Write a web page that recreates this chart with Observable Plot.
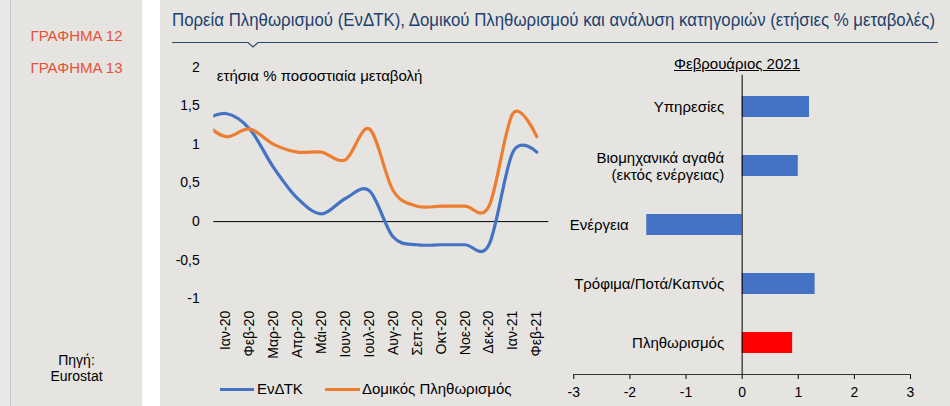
<!DOCTYPE html>
<html><head><meta charset="utf-8">
<script src="https://cdn.jsdelivr.net/npm/d3@7"></script>
<script src="https://cdn.jsdelivr.net/npm/@observablehq/plot@0.6"></script>
<style>
body{margin:0;width:950px;height:406px;position:relative;overflow:hidden;background:#fff;font-family:"Liberation Sans",Arial,sans-serif;}
.abs{position:absolute;white-space:nowrap;}
.plot{position:absolute;top:0;}
</style></head><body>
<div class="abs" style="left:0;top:0;width:10px;height:406px;background:#e8e8e8;border-right:1px solid #c4c4c4"></div>
<div class="abs" style="left:11px;top:0;width:131px;height:406px;background:#e5e4e0"></div>
<div class="abs" style="left:160px;top:0;width:790px;height:406px;background:#e5e4e0"></div>
<div class="abs" style="left:11px;width:131px;top:27px;text-align:center;font-size:15px;line-height:18px;color:#e8503a">ΓΡΑΦΗΜΑ 12</div>
<div class="abs" style="left:11px;width:131px;top:59px;text-align:center;font-size:15px;line-height:18px;color:#e8503a">ΓΡΑΦΗΜΑ 13</div>
<div class="abs" style="left:11px;width:131px;top:352px;text-align:center;font-size:14px;line-height:16px;color:#000">Πηγή:<br>Eurostat</div>
<div id="title" class="abs" style="left:172px;top:9px;font-size:18px;line-height:22px;color:#1f3f6e;transform-origin:0 0">Πορεία Πληθωρισμού (ΕνΔΤΚ), Δομικού Πληθωρισμού και ανάλυση κατηγοριών (ετήσιες % μεταβολές)</div>
<svg class="abs" style="left:0;top:0" width="950" height="60"><path d="M172,42.5H248L253,47L258,42.5H938" fill="none" stroke="#2c4a6b" stroke-width="1.2"/></svg>
<div id="left" class="plot" style="left:0"></div>
<div id="right" class="plot" style="left:560px"></div>
<div class="abs" style="left:667px;width:140px;top:56px;text-align:center;font-size:15px;line-height:16px;text-decoration:underline;color:#000">Φεβρουάριος 2021</div>
<div class="abs" style="left:220px;top:387.5px;width:34px;height:3px;background:#4472C4"></div>
<div class="abs" style="left:257px;top:381px;font-size:15px;line-height:16px">ΕνΔΤΚ</div>
<div class="abs" style="left:325px;top:387.5px;width:35px;height:3px;background:#ED7D31"></div>
<div class="abs" style="left:362px;top:381px;font-size:15px;line-height:16px">Δομικός Πληθωρισμός</div>
<script>
// ---- data ----
const months = ["Δεκ-19","Ιαν-20","Φεβ-20","Μαρ-20","Απρ-20","Μάι-20","Ιουν-20","Ιουλ-20","Αυγ-20","Σεπ-20","Οκτ-20","Νοε-20","Δεκ-20","Ιαν-21","Φεβ-21"];
const hicp = [1.3,1.4,1.2,0.7,0.3,0.1,0.3,0.4,-0.2,-0.3,-0.3,-0.3,-0.3,0.9,0.9];
const core = [1.3,1.1,1.2,1.0,0.9,0.9,0.8,1.2,0.4,0.2,0.2,0.2,0.2,1.4,1.1];
const yTicks = [-1,-0.5,0,0.5,1,1.5,2];
const yLabel = "ετήσια % ποσοστιαία μεταβολή";
const seriesNames = ["ΕνΔΤΚ","Δομικός Πληθωρισμός"];
const categories = ["Υπηρεσίες","Βιομηχανικά αγαθά\n(εκτός ενέργειας)","Ενέργεια","Τρόφιμα/Ποτά/Καπνός","Πληθωρισμός"];
const febValues = [1.2,1.0,-1.7,1.3,0.9];
const xTicks = [-3,-2,-1,0,1,2,3];

// ---- styles ----
const BLUE = "#4472C4", ORANGE = "#ED7D31", RED = "#FF0000";
const font = "'Liberation Sans', Arial, sans-serif";

// fit title width
const t = document.getElementById("title");
t.style.transform = `scaleX(${763 / t.getBoundingClientRect().width})`;

const rows = months.map((m, i) => ({i, m, hicp: hicp[i], core: core[i]}));
const left = Plot.plot({
  width: 560, height: 406,
  marginLeft: 213.3, marginRight: 11.7, marginTop: 66.7, marginBottom: 107.7,
  style: {background: "transparent", fontFamily: font, fontSize: "14px", color: "#000", overflow: "visible"},
  x: {domain: [0.5, 14.5], ticks: d3.range(1, months.length), tickFormat: i => months[i], tickRotate: -90, tickSize: 0, tickPadding: 12, label: null},
  y: {domain: [-1, 2], ticks: yTicks, tickFormat: d => String(d).replace(".", ","), tickSize: 0, tickPadding: 14, label: null},
  marks: [
    Plot.ruleY([0], {stroke: "#000", strokeWidth: 1}),
    Plot.lineY(rows, {x: "i", y: "hicp", stroke: BLUE, strokeWidth: 3.2, curve: "cardinal", clip: true}),
    Plot.lineY(rows, {x: "i", y: "core", stroke: ORANGE, strokeWidth: 3.2, curve: "cardinal", clip: true}),
    Plot.text([yLabel], {text: d => d, frameAnchor: "top-left", textAnchor: "start", dx: 3, dy: 3, fontSize: 15})
  ]
});
document.getElementById("left").append(left);

const bars = categories.map((c, i) => ({cat: c, v: febValues[i]}));
const right = Plot.plot({
  width: 390, height: 406,
  marginLeft: 13.3, marginRight: 40, marginTop: 74.7, marginBottom: 32,
  style: {background: "transparent", fontFamily: font, fontSize: "14px", color: "#000", overflow: "visible"},
  x: {domain: [-3, 3], ticks: xTicks, tickFormat: d => String(d), tickSize: 5, tickPadding: 8, label: null},
  y: {domain: categories, paddingInner: 0.65, paddingOuter: 0.325, axis: null},
  color: {type: "identity"},
  marks: [
    Plot.barX(bars, {x: "v", y: "cat", fill: d => d.cat === "Πληθωρισμός" ? RED : BLUE}),
    Plot.ruleX([0], {stroke: "#000", strokeWidth: 1}),
    Plot.frame({anchor: "bottom", stroke: "#333"}),
    Plot.text(bars, {x: d => Math.min(0, d.v), y: "cat", text: "cat", textAnchor: "end", dx: -18, fontSize: 15, lineHeight: 1.1})
  ]
});
document.getElementById("right").append(right);
</script>
</body></html>
